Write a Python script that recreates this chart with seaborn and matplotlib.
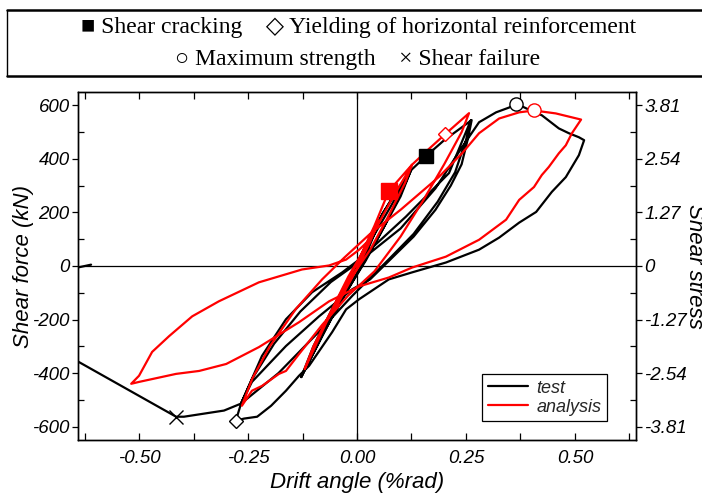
import matplotlib
matplotlib.use("Agg")
import matplotlib.pyplot as plt
from matplotlib.lines import Line2D
from matplotlib.ticker import MultipleLocator, FixedLocator, FuncFormatter
import numpy as np
import pandas as pd
import seaborn as sns

# ---- hysteresis data: drift angle (%rad) vs shear force (kN) ----
test_drift = [
    0.000, 0.030, 0.045, 0.020, -0.010, -0.040, -0.050, -0.020, 0.010,
    0.050, 0.090, 0.124, 0.100, 0.060, 0.020, -0.030, -0.080, -0.128,
    -0.100, -0.060, -0.020, 0.030, 0.080, 0.124,
    0.100, 0.050, 0.000, -0.060, -0.128,
    -0.090, -0.050, 0.000, 0.060, 0.124, 0.158, 0.200, 0.263,
    0.255, 0.240, 0.215, 0.180, 0.130, 0.080, 0.030, -0.011, -0.087, -0.163, -0.241, -0.266,
    -0.218, -0.163, -0.103, -0.034, 0.005, 0.112, 0.211, 0.261,
    0.250, 0.225, 0.185, 0.130, 0.070, -0.010, -0.090, -0.180, -0.266,
    -0.240, -0.190, -0.130, -0.060, 0.000, 0.100, 0.180, 0.241, 0.280, 0.319, 0.349, 0.365,
    0.388, 0.424, 0.463, 0.486, 0.509, 0.521,
    0.509, 0.479, 0.447, 0.411, 0.372, 0.326, 0.280, 0.204, 0.126, 0.073, 0.005, -0.025,
    -0.057, -0.110, -0.133, -0.163, -0.197, -0.229, -0.259, -0.278,
    -0.266, -0.305, -0.397, -0.415, -0.642, -0.700, -0.690, -0.610,
]
test_force = [
    0, 90, 140, 40, -40, -140, -170, -60, 30,
    170, 280, 358, 270, 140, 20, -110, -260, -415,
    -300, -170, -50, 90, 230, 358,
    260, 110, -30, -200, -415,
    -280, -140, 10, 200, 358, 410, 470, 545,
    480, 380, 300, 210, 110, 30, -50, -87, -188, -299, -433, -514,
    -336, -199, -98, -24, 24, 184, 347, 544,
    470, 350, 240, 120, 20, -110, -250, -400, -514,
    -420, -290, -170, -60, 10, 140, 290, 444, 537, 574, 592, 607,
    589, 563, 514, 496, 481, 470,
    414, 332, 277, 202, 162, 106, 61, 13, -24, -50, -124, -162,
    -247, -373, -410, -466, -522, -563, -570, -578,
    -514, -540, -563, -563, -355, -302, -23, 5,
]

analysis_drift = [
    0.000, 0.030, 0.050, 0.030, 0.000, -0.030, -0.050, -0.030, 0.000,
    0.040, 0.073, 0.100, 0.126, 0.110, 0.070, 0.030, -0.020, -0.070, -0.120,
    -0.100, -0.060, -0.020, 0.030, 0.080, 0.126,
    0.160, 0.202, 0.257, 0.240, 0.200, 0.150, 0.100, 0.040, -0.020, -0.080,
    -0.133, -0.163, -0.179, -0.218, -0.241, -0.264,
    -0.240, -0.200, -0.140, -0.080, -0.030, 0.030, 0.100, 0.188, 0.241, 0.280,
    0.326, 0.372, 0.406, 0.456, 0.514,
    0.493, 0.479, 0.463, 0.440, 0.424, 0.406, 0.372, 0.342, 0.280, 0.204, 0.126,
    0.073, 0.005, -0.064, -0.133, -0.225, -0.300, -0.362, -0.415, -0.500, -0.518,
    -0.500, -0.470, -0.431, -0.378, -0.317, -0.225, -0.126, -0.064, -0.025, 0.005, 0.030,
]
analysis_force = [
    0, 110, 170, 90, -10, -100, -160, -80, 10,
    150, 280, 330, 378, 310, 180, 60, -60, -210, -385,
    -300, -170, -40, 100, 250, 378,
    430, 492, 571, 500, 380, 240, 110, -20, -110, -220,
    -329, -392, -403, -448, -466, -522,
    -420, -300, -160, -50, 30, 120, 210, 333, 421, 496,
    551, 574, 581, 570, 547,
    496, 451, 421, 370, 340, 295, 247, 173, 98, 35, -6,
    -43, -76, -132, -210, -303, -366, -392, -403, -433, -440,
    -410, -321, -262, -188, -132, -61, -13, 2, 24, 61, 100,
]

# ---- damage events ----
crack_test = (0.158, 410)
crack_analysis = (0.073, 280)
yield_test = (-0.278, -578)
yield_analysis = (0.202, 492)
peak_test = (0.365, 607)
peak_analysis = (0.406, 581)
failure_test = (-0.415, -563)

x_ticks = [-0.50, -0.25, 0.00, 0.25, 0.50]
force_ticks = [-600, -400, -200, 0, 200, 400, 600]
stress_ticks = [-3.81, -2.54, -1.27, 0.0, 1.27, 2.54, 3.81]
stress_per_kN = 3.81 / 600

sns.set_theme(style="ticks")
plt.rcParams["font.family"] = ["Liberation Sans", "DejaVu Sans"]
plt.rcParams["font.style"] = "italic"
plt.rcParams["axes.unicode_minus"] = False

fig = plt.figure(figsize=(7.02, 4.95), dpi=100)
W, H = 702, 495
ax = fig.add_axes([78 / W, (H - 440) / H, 558 / W, 348 / H])

df = pd.concat([
    pd.DataFrame({"drift": test_drift, "force": test_force, "series": "test"}),
    pd.DataFrame({"drift": analysis_drift, "force": analysis_force, "series": "analysis"}),
], ignore_index=True)

palette = {"test": "black", "analysis": "red"}
sns.lineplot(data=df, x="drift", y="force", hue="series", hue_order=["test", "analysis"],
             palette=palette, sort=False, estimator=None, lw=1.6, ax=ax, legend=False, zorder=3)

ax.axhline(0, color="black", lw=0.9, zorder=1)
ax.axvline(0, color="black", lw=0.9, zorder=1)

# event markers
ax.plot(*crack_test, marker="s", ms=10.5, color="black", zorder=5)
ax.plot(*crack_analysis, marker="s", ms=11, color="red", zorder=5)
ax.plot(*yield_analysis, marker="D", ms=7, mfc="white", mec="red", mew=1.0, zorder=5)
ax.plot(*yield_test, marker="D", ms=7, mfc="white", mec="black", mew=1.0, zorder=5)
ax.plot(*peak_test, marker="o", ms=9.5, mfc="white", mec="black", mew=1.0, zorder=5)
ax.plot(*peak_analysis, marker="o", ms=9.5, mfc="white", mec="red", mew=1.0, zorder=5)
ax.plot(*failure_test, marker="x", ms=10, color="black", mew=1.0, zorder=5)

ax.set_xlim(-0.64, 0.64)
ax.set_ylim(-650, 650)
ax.xaxis.set_major_locator(FixedLocator(x_ticks))
ax.xaxis.set_minor_locator(MultipleLocator(0.125))
ax.xaxis.set_major_formatter(FuncFormatter(lambda v, p: f"{v:.2f}"))
ax.yaxis.set_major_locator(FixedLocator(force_ticks))
ax.yaxis.set_minor_locator(MultipleLocator(100))
ax.yaxis.set_major_formatter(FuncFormatter(lambda v, p: f"{v:.0f}"))

for sp in ax.spines.values():
    sp.set_color("black")
    sp.set_linewidth(1.0)

ax.tick_params(axis="x", which="both", direction="in", top=True, bottom=True,
               length=5, width=0.9, color="black", labelsize=13.5, pad=7, labelcolor="black")
ax.tick_params(axis="y", which="major", direction="out", length=4, width=0.9,
               color="black", labelsize=13.5, pad=2, labelcolor="black")
ax.tick_params(axis="y", which="minor", direction="in", length=4, width=0.9, color="black")

ax.set_xlabel("Drift angle (%rad)", fontsize=16, labelpad=4, color="black")
ax.set_ylabel("Shear force (kN)", fontsize=16, color="black")
ax.yaxis.set_label_coords((34 - 78) / 558, 0.5)

ax2 = ax.twinx()
ax2.set_ylim(-650 * stress_per_kN, 650 * stress_per_kN)
ax2.yaxis.set_major_locator(FixedLocator(stress_ticks))
ax2.yaxis.set_minor_locator(MultipleLocator(0.635))
ax2.yaxis.set_major_formatter(FuncFormatter(lambda v, p: "0" if abs(v) < 1e-9 else f"{v:.2f}"))
ax2.tick_params(axis="y", which="major", direction="out", length=4, width=0.9,
                color="black", labelsize=13.5, pad=2, labelcolor="black")
ax2.tick_params(axis="y", which="minor", direction="in", length=4, width=0.9, color="black")
ax2.grid(False)
for sp in ax2.spines.values():
    sp.set_color("black")
    sp.set_linewidth(1.0)

fig.text(689 / W, 1 - 266 / H, "Shear stress", rotation=270, rotation_mode="anchor",
         ha="center", va="baseline", fontsize=16, color="black")

handles = [Line2D([], [], color="black", lw=1.6), Line2D([], [], color="red", lw=1.6)]
leg = ax.legend(handles, ["test", "analysis"], loc="lower right",
                bbox_to_anchor=((607 - 78) / 558, (440 - 421) / 348),
                fontsize=13, frameon=True, fancybox=False, framealpha=1,
                edgecolor="black", handlelength=2.2, handletextpad=0.5,
                borderpad=0.3, labelspacing=0.1, borderaxespad=0)
leg.get_frame().set_linewidth(0.9)

# event key above the plot
serif = ["Liberation Serif", "DejaVu Serif"]
fig.text(359 / W, 1 - 27 / H, "\u25A0 Shear cracking    \u25C7 Yielding of horizontal reinforcement",
         ha="center", va="center", fontsize=17, family=serif, style="normal", color="black")
fig.text(358 / W, 1 - 60 / H, "\u25CB Maximum strength    \u00D7 Shear failure",
         ha="center", va="center", fontsize=17, family=serif, style="normal", color="black")
fig.add_artist(Line2D([7 / W, 1.0], [1 - 10 / H, 1 - 10 / H], color="black", lw=1.8))
fig.add_artist(Line2D([7 / W, 1.0], [1 - 76 / H, 1 - 76 / H], color="black", lw=1.8))
fig.add_artist(Line2D([7 / W, 7 / W], [1 - 10 / H, 1 - 76 / H], color="black", lw=1.0))

fig.savefig("out.png", dpi=100)
